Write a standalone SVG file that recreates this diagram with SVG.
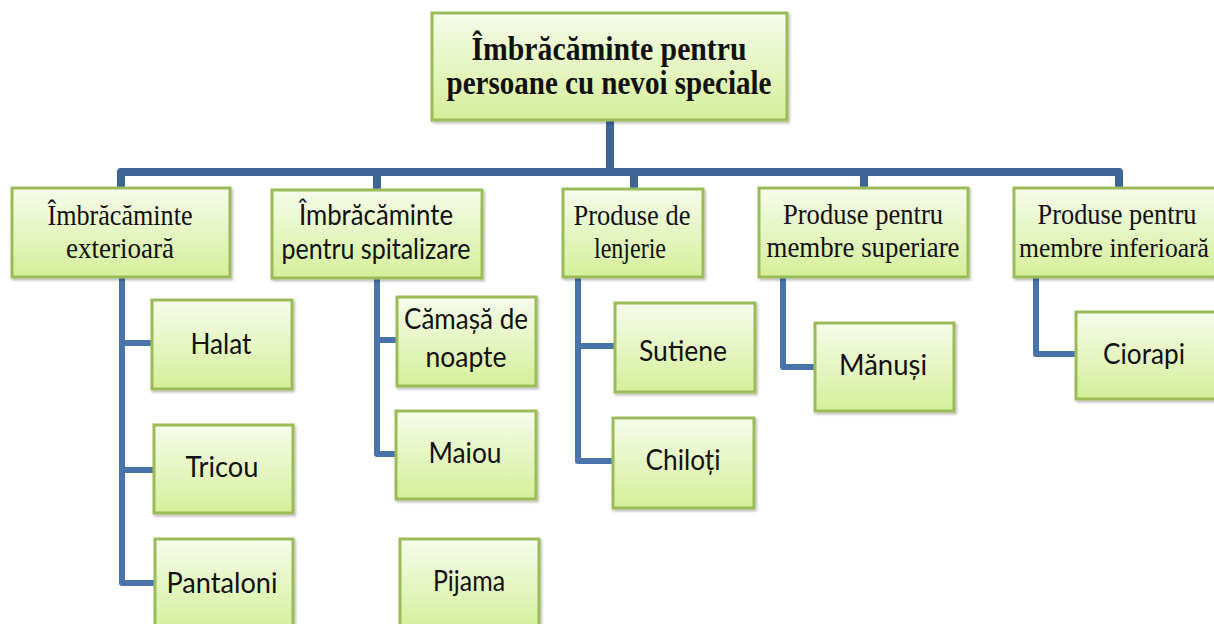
<svg xmlns="http://www.w3.org/2000/svg" width="1214" height="624" viewBox="0 0 1214 624">
<defs>
<linearGradient id="g" x1="0" y1="0" x2="0" y2="1">
<stop offset="0" stop-color="#f6fceb"/>
<stop offset="1" stop-color="#d5ef9a"/>
</linearGradient>
<filter id="sh" x="-10%" y="-10%" width="130%" height="130%">
<feDropShadow dx="1.5" dy="2" stdDeviation="1.2" flood-color="#000" flood-opacity="0.25"/>
</filter>
<style>
.box{fill:url(#g);stroke:#9bbb59;stroke-width:3;filter:url(#sh)}
.top{fill:none;stroke:#3e6595;stroke-width:8;stroke-linejoin:round}
.low{fill:none;stroke:#4874ab;stroke-width:6;stroke-linejoin:round}
.ser{font-family:"Liberation Serif","Times New Roman",serif;fill:#111;text-anchor:middle}
.san{font-family:Lato,"Open Sans","Liberation Sans",sans-serif;fill:#111;text-anchor:middle}
.root{font-size:33px;font-weight:bold}
.l2{font-size:29px}
.l2s{font-size:28px}
.c{font-size:29px}
</style>
</defs>
<rect width="1214" height="624" fill="#fff"/>
<g id="connectors">
<path class="top" d="M610,120 V172"/>
<path class="top" d="M121,188 V172 H1119 V188"/>
<path class="top" d="M377,172 V190 M634,172 V189 M864,172 V188"/>
<path class="low" d="M122,277 V583 H155 M122,343 H152 M122,470 H154"/>
<path class="low" d="M377,278 V454 H396 M377,340 H397"/>
<path class="low" d="M578,277 V461 H613 M578,346 H615"/>
<path class="low" d="M783,277 V367 H815"/>
<path class="low" d="M1036,277 V354 H1076"/>
</g>
<g id="root">
<rect class="box" x="432" y="13" width="355" height="107"/>
<text class="ser root" x="609" y="60" textLength="275" lengthAdjust="spacingAndGlyphs">Îmbrăcăminte pentru</text>
<text class="ser root" x="609" y="94" textLength="325" lengthAdjust="spacingAndGlyphs">persoane cu nevoi speciale</text>
</g>
<g id="n-exterioara">
<rect class="box" x="12" y="188" width="218" height="89"/>
<text class="ser l2" x="120" y="225" textLength="145" lengthAdjust="spacingAndGlyphs">Îmbrăcăminte</text>
<text class="ser l2" x="120" y="258" textLength="108" lengthAdjust="spacingAndGlyphs">exterioară</text>
</g>
<g id="n-spitalizare">
<rect class="box" x="272" y="190" width="210" height="88"/>
<text class="san l2s" x="376" y="225" textLength="154" lengthAdjust="spacingAndGlyphs">Îmbrăcăminte</text>
<text class="san l2s" x="376" y="259" textLength="189" lengthAdjust="spacingAndGlyphs">pentru spitalizare</text>
</g>
<g id="n-lenjerie">
<rect class="box" x="563" y="189" width="140" height="88"/>
<text class="ser l2" x="632" y="225" textLength="117" lengthAdjust="spacingAndGlyphs">Produse de</text>
<text class="ser l2" x="630" y="258" textLength="72" lengthAdjust="spacingAndGlyphs">lenjerie</text>
</g>
<g id="n-superiare">
<rect class="box" x="759" y="188" width="209" height="89"/>
<text class="ser l2" x="863" y="224" textLength="160" lengthAdjust="spacingAndGlyphs">Produse pentru</text>
<text class="ser l2" x="863" y="257" textLength="193" lengthAdjust="spacingAndGlyphs">membre superiare</text>
</g>
<g id="n-inferioara">
<rect class="box" x="1014" y="188" width="212" height="89"/>
<text class="ser l2" x="1117" y="224" textLength="159" lengthAdjust="spacingAndGlyphs">Produse pentru</text>
<text class="ser" x="1114" y="257" font-size="27" textLength="190" lengthAdjust="spacingAndGlyphs">membre inferioară</text>
</g>
<g id="n-halat">
<rect class="box" x="152" y="300" width="140" height="89"/>
<text class="san c" x="221" y="354" textLength="61" lengthAdjust="spacingAndGlyphs">Halat</text>
</g>
<g id="n-tricou">
<rect class="box" x="154" y="425" width="139" height="88"/>
<text class="san c" x="222" y="477" textLength="73" lengthAdjust="spacingAndGlyphs">Tricou</text>
</g>
<g id="n-pantaloni">
<rect class="box" x="155" y="539" width="138" height="92"/>
<text class="san c" x="222" y="593" textLength="111" lengthAdjust="spacingAndGlyphs">Pantaloni</text>
</g>
<g id="n-camasa">
<rect class="box" x="397" y="297" width="139" height="89"/>
<text class="san c" x="466" y="329" textLength="124" lengthAdjust="spacingAndGlyphs">Cămașă de</text>
<text class="san c" x="466" y="367" textLength="81" lengthAdjust="spacingAndGlyphs">noapte</text>
</g>
<g id="n-maiou">
<rect class="box" x="396" y="411" width="140" height="88"/>
<text class="san c" x="465" y="463" textLength="73" lengthAdjust="spacingAndGlyphs">Maiou</text>
</g>
<g id="n-pijama">
<rect class="box" x="400" y="539" width="139" height="92"/>
<text class="san c" x="469" y="591" textLength="72" lengthAdjust="spacingAndGlyphs">Pijama</text>
</g>
<g id="n-sutiene">
<rect class="box" x="615" y="303" width="140" height="89"/>
<text class="san c" x="683" y="361" textLength="88" lengthAdjust="spacingAndGlyphs">Sutiene</text>
</g>
<g id="n-chiloti">
<rect class="box" x="613" y="418" width="141" height="90"/>
<text class="san c" x="683" y="470" textLength="75" lengthAdjust="spacingAndGlyphs">Chiloți</text>
</g>
<g id="n-manusi">
<rect class="box" x="815" y="323" width="139" height="88"/>
<text class="san c" x="883" y="375" textLength="88" lengthAdjust="spacingAndGlyphs">Mănuși</text>
</g>
<g id="n-ciorapi">
<rect class="box" x="1076" y="312" width="142" height="87"/>
<text class="san c" x="1144" y="364" textLength="82" lengthAdjust="spacingAndGlyphs">Ciorapi</text>
</g>
</svg>
